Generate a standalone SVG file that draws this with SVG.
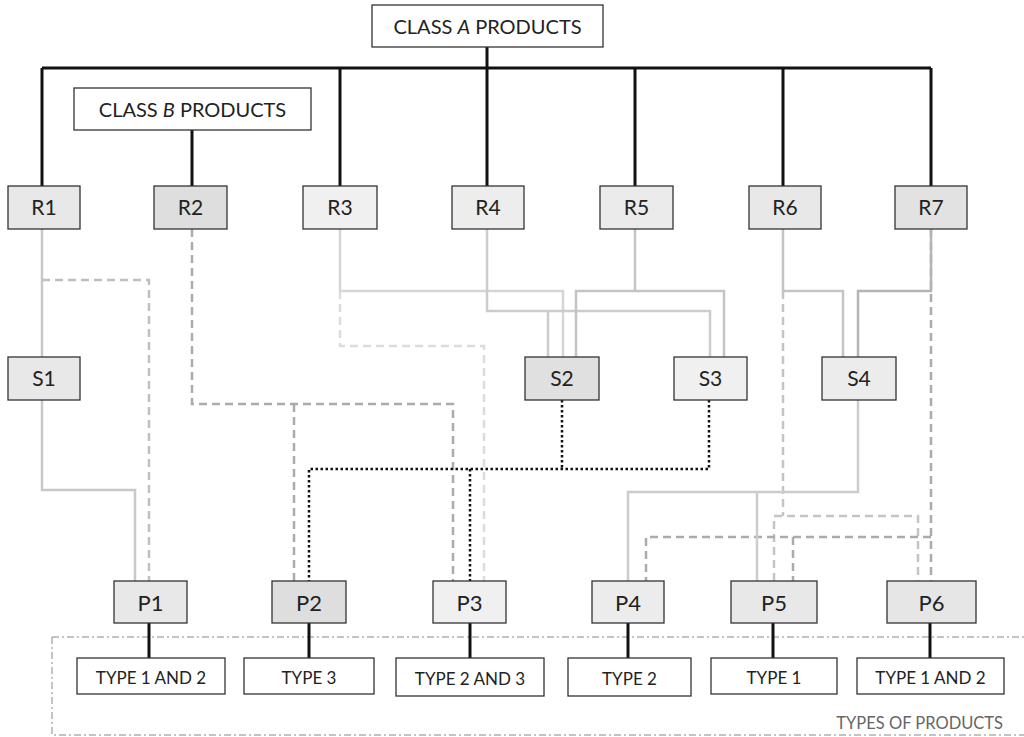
<svg xmlns="http://www.w3.org/2000/svg" width="1024" height="737" viewBox="0 0 1024 737">
<defs>
<style>
.box{fill:#fff;stroke:#333;stroke-width:1.3}
.node{stroke:#333;stroke-width:1.3}
.lbl{font-family:Lato,"Liberation Sans",sans-serif;font-size:21px;fill:#222;text-anchor:middle}
.plb{font-family:Lato,"Liberation Sans",sans-serif;font-size:22px;fill:#222;text-anchor:middle}
.big{font-family:Lato,"Liberation Sans",sans-serif;font-size:20px;fill:#222;text-anchor:middle}
.typ{font-family:Lato,"Liberation Sans",sans-serif;font-size:17px;fill:#222;text-anchor:middle}
.blk{fill:none;stroke:#111;stroke-width:3}
.sol{fill:none;stroke-width:2.5}
.dsh{fill:none;stroke-width:2.5;stroke-dasharray:8 5}
.dot{fill:none;stroke:#111;stroke-width:2.5;stroke-dasharray:2.5 2.5}
</style>
</defs>
<rect width="1024" height="737" fill="#fff"/>
<path d="M52,637 H1024 M52,637 V735 H1024" fill="none" stroke="#888" stroke-width="1" stroke-dasharray="7 3 2 3"/>
<text x="1003" y="729" font-family="Lato,'Liberation Sans',sans-serif" font-size="16.5" fill="#666" text-anchor="end">TYPES OF PRODUCTS</text>
<g id="connectors">
<path class="blk" d="M487,47 V68 M42,68 H931 M42,68 V186 M340,68 V186 M487,68 V186 M635,68 V186 M783,68 V186 M931,68 V186 M192,130 V186"/>
<path class="blk" d="M149,623 V658 M309,623 V658 M470,623 V658 M628,623 V658 M773,623 V658 M930,623 V658"/>
<path class="sol" stroke="#c8c8c8" d="M42,229 V357 M42,400 V490 H135 V581"/>
<path class="dsh" stroke="#bfbfbf" d="M42,280 H149 V581"/>
<path class="dsh" stroke="#ababab" d="M192,229 V404 H453 V581 M294,404 V581"/>
<path class="dsh" stroke="#dcdcdc" d="M340,291 V346 H484 V581"/>
<path class="sol" stroke="#d6d6d6" d="M340,229 V291 H563 V357"/>
<path class="sol" stroke="#cccccc" d="M487,229 V311 H710 V357 M548,311 V357"/>
<path class="sol" stroke="#c4c4c4" d="M635,229 V291 M576,357 V291 H724 V357"/>
<path class="dsh" stroke="#c4c4c4" d="M783,291 V516 M774,581 V516 H918 V581"/>
<path class="sol" stroke="#c4c4c4" d="M783,229 V291 H843 V357"/>
<path class="dsh" stroke="#ababab" stroke-width="3" d="M931,229 V581 M931,537 H646 V581 M793,537 V581"/>
<path class="sol" stroke="#b4b4b4" d="M931,229 V291 H858 V357"/>
<path class="sol" stroke="#cccccc" d="M858,400 V492 H628 V581 M757,492 V581"/>
<path class="dot" d="M562,400 V469 M709,400 V469 H309 V581 M470,469 V581"/>
</g>
<g id="classA"><rect class="box" x="372" y="5" width="231" height="42"/><text class="big" x="487.5" y="34">CLASS <tspan font-style="italic">A</tspan> PRODUCTS</text></g>
<g id="classB"><rect class="box" x="74" y="88" width="237" height="42"/><text class="big" x="192.5" y="117">CLASS <tspan font-style="italic">B</tspan> PRODUCTS</text></g>
<g id="R1"><rect class="node" x="8" y="186" width="72" height="43" fill="#e8e8e8"/><text class="lbl" x="44" y="215">R1</text></g>
<g id="R2"><rect class="node" x="154" y="186" width="73" height="43" fill="#dedede"/><text class="lbl" x="190.5" y="215">R2</text></g>
<g id="R3"><rect class="node" x="303" y="186" width="74" height="43" fill="#f0f0f0"/><text class="lbl" x="340" y="215">R3</text></g>
<g id="R4"><rect class="node" x="452" y="186" width="72" height="43" fill="#ededed"/><text class="lbl" x="488" y="215">R4</text></g>
<g id="R5"><rect class="node" x="600" y="186" width="73" height="43" fill="#ebebeb"/><text class="lbl" x="636.5" y="215">R5</text></g>
<g id="R6"><rect class="node" x="749" y="186" width="72" height="43" fill="#e8e8e8"/><text class="lbl" x="785" y="215">R6</text></g>
<g id="R7"><rect class="node" x="895" y="186" width="72" height="43" fill="#e2e2e2"/><text class="lbl" x="931" y="215">R7</text></g>
<g id="S1"><rect class="node" x="8" y="357" width="72" height="43" fill="#e8e8e8"/><text class="lbl" x="44" y="386">S1</text></g>
<g id="S2"><rect class="node" x="525" y="357" width="74" height="43" fill="#e0e0e0"/><text class="lbl" x="562" y="386">S2</text></g>
<g id="S3"><rect class="node" x="674" y="357" width="73" height="43" fill="#f0f0f0"/><text class="lbl" x="710.5" y="386">S3</text></g>
<g id="S4"><rect class="node" x="822" y="357" width="74" height="43" fill="#ececec"/><text class="lbl" x="859" y="386">S4</text></g>
<g id="P1"><rect class="node" x="114" y="581" width="73" height="42" fill="#e8e8e8"/><text class="plb" x="150.5" y="611">P1</text></g>
<g id="P2"><rect class="node" x="272" y="581" width="74" height="42" fill="#dedede"/><text class="plb" x="309" y="611">P2</text></g>
<g id="P3"><rect class="node" x="433" y="581" width="73" height="42" fill="#f0f0f0"/><text class="plb" x="469.5" y="611">P3</text></g>
<g id="P4"><rect class="node" x="592" y="581" width="72" height="42" fill="#ececec"/><text class="plb" x="628" y="611">P4</text></g>
<g id="P5"><rect class="node" x="731" y="581" width="86" height="42" fill="#e8e8e8"/><text class="plb" x="774" y="611">P5</text></g>
<g id="P6"><rect class="node" x="887" y="581" width="89" height="42" fill="#e6e6e6"/><text class="plb" x="931.5" y="611">P6</text></g>
<g id="T1"><rect class="box" x="77" y="658" width="148" height="36"/><text class="typ" x="151" y="684">TYPE 1 AND 2</text></g>
<g id="T2"><rect class="box" x="244" y="658" width="130" height="36"/><text class="typ" x="309" y="684">TYPE 3</text></g>
<g id="T3"><rect class="box" x="396" y="658" width="148" height="38"/><text class="typ" x="470" y="685">TYPE 2 AND 3</text></g>
<g id="T4"><rect class="box" x="568" y="658" width="123" height="38"/><text class="typ" x="629.5" y="685">TYPE 2</text></g>
<g id="T5"><rect class="box" x="711" y="658" width="126" height="36"/><text class="typ" x="774" y="684">TYPE 1</text></g>
<g id="T6"><rect class="box" x="857" y="658" width="147" height="36"/><text class="typ" x="930.5" y="684">TYPE 1 AND 2</text></g>
</svg>
